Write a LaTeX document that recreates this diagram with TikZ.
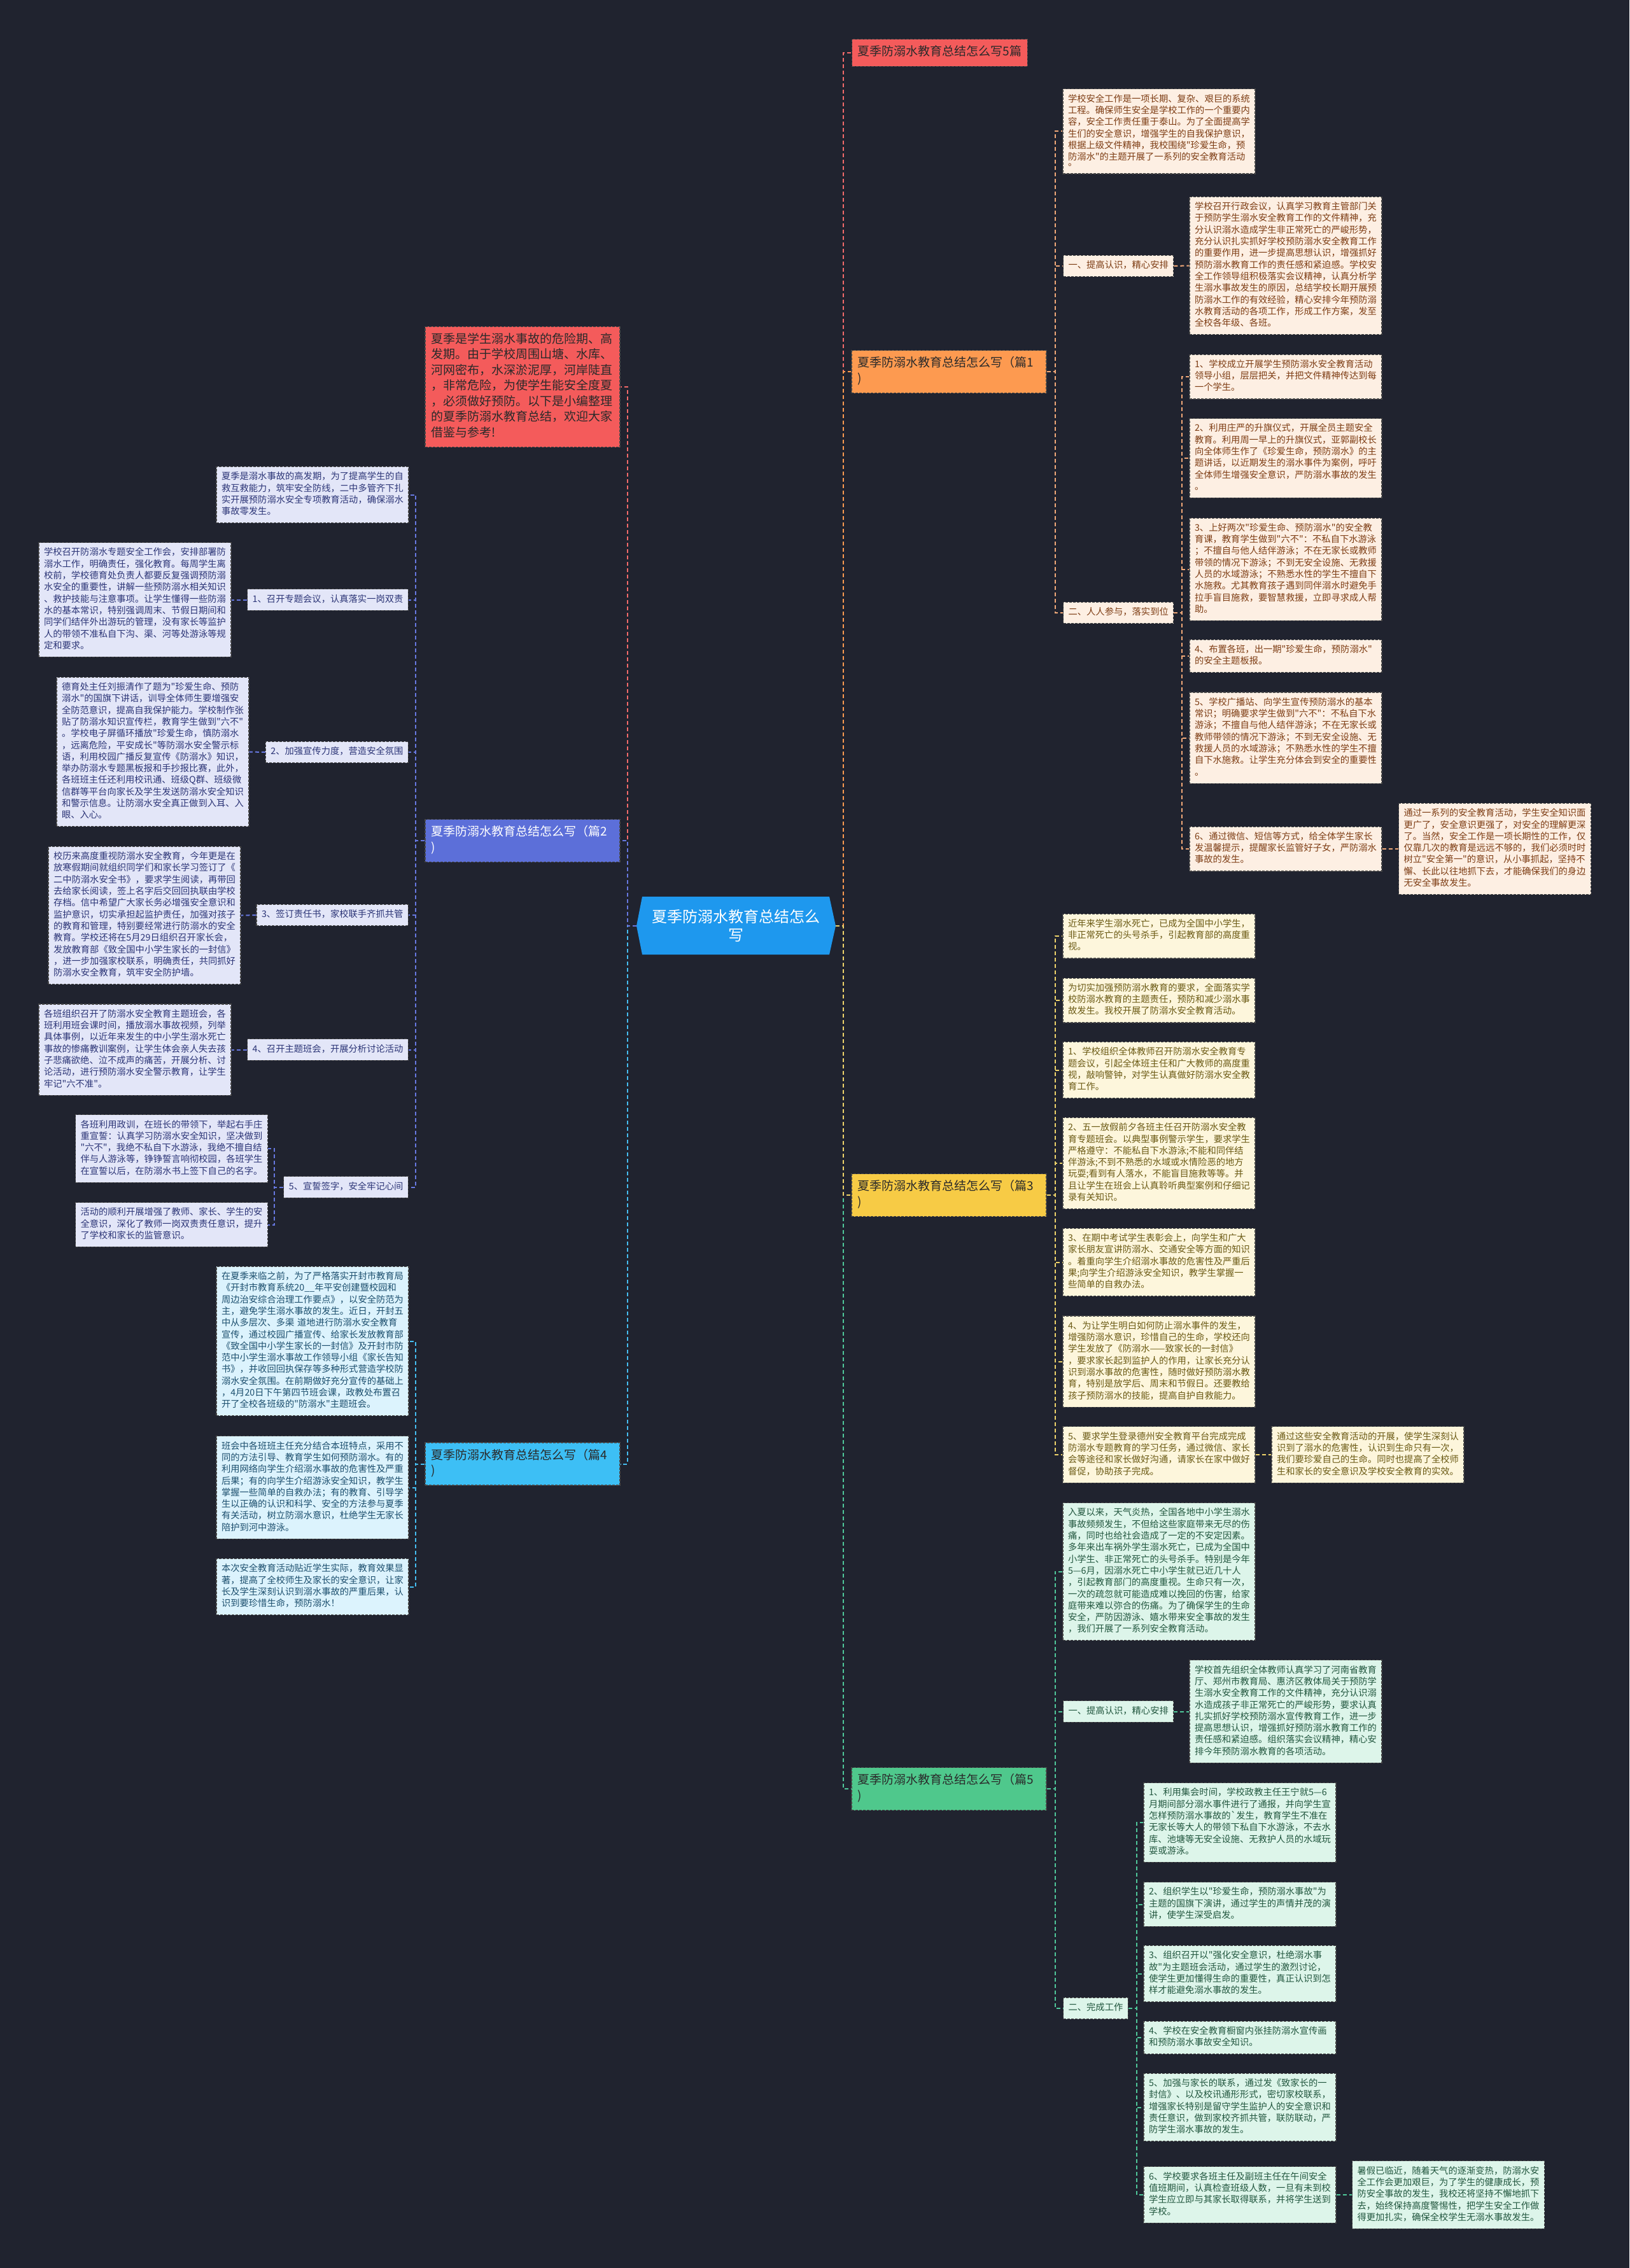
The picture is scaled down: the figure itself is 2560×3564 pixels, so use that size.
\documentclass[tikz,border=0pt]{standalone}
\usepackage{fontspec}
\setmainfont{Noto Sans CJK SC}
\font\dqf="Noto Sans CJK SC" at 14.3pt
\newcommand\dq{{\dqf"}}
\newcommand\bq{{\dqf`}}
\definecolor{bgc}{HTML}{20232F}
\definecolor{ctrc}{HTML}{1E98EE}
\definecolor{redf}{HTML}{F45B5B}
\definecolor{redl}{HTML}{F26A6A}
\definecolor{orf}{HTML}{FD9A50}
\definecolor{orl}{HTML}{F0A878}
\definecolor{orb}{HTML}{FDEFE3}
\definecolor{ort}{HTML}{7E3D14}
\definecolor{yef}{HTML}{F7CB45}
\definecolor{yel}{HTML}{EED36A}
\definecolor{yeb}{HTML}{FDF6DC}
\definecolor{yet}{HTML}{6B5A14}
\definecolor{grf}{HTML}{4FC88C}
\definecolor{grl}{HTML}{4FC79A}
\definecolor{grb}{HTML}{DDF5EA}
\definecolor{grt}{HTML}{22573F}
\definecolor{blf}{HTML}{5C6FD9}
\definecolor{bll}{HTML}{6778E0}
\definecolor{blb}{HTML}{E3E6F8}
\definecolor{blt}{HTML}{2C3577}
\definecolor{cyf}{HTML}{3DBFF5}
\definecolor{cyl}{HTML}{45BDF0}
\definecolor{cyb}{HTML}{DCF3FD}
\definecolor{cyt}{HTML}{1C4F6E}
\definecolor{dkt}{HTML}{2A2A2A}
\tikzset{
  bord/.style={draw=black!72, line width=1.1pt, dash pattern=on 4pt off 2pt},
  ttl/.style={bord, font=\fontsize{19}{24.5}\selectfont, inner xsep=9pt, inner ysep=9pt, align=left,
    execute at begin node=\strut, execute at end node=\strut},
  ttlw/.style={ttl, text width=288pt},
  lab/.style={bord, font=\fontsize{14.3}{18.3}\selectfont, inner xsep=8pt, inner ysep=7.5pt, align=left,
    execute at begin node=\strut, execute at end node=\strut},
  tb/.style={lab, text width=286pt},
  sOr/.style={fill=orb, text=ort},
  sYe/.style={fill=yeb, text=yet},
  sGr/.style={fill=grb, text=grt},
  sBl/.style={fill=blb, text=blt},
  sCy/.style={fill=cyb, text=cyt},
  ln/.style={line width=2pt, dash pattern=on 6pt off 4pt},
}
\begin{document}
\begin{tikzpicture}[x=1pt,y=-1pt]
\fill[bgc] (0,0) rectangle (2560,3564);
\useasboundingbox (0,0) rectangle (2560,3564);

% ---------- centre ----------
\fill[ctrc] (1000,1455) -- (1009,1409) -- (1303,1409) -- (1313,1455) -- (1303,1500) -- (1009,1500) -- cycle;
\node[minimum width=313pt, minimum height=91pt, inner sep=0pt, align=center, text=white,
  font=\fontsize{24}{29}\selectfont] (ctr) at (1156.5,1455) {夏季防溺水教育总结怎么\\写};

% ---------- right branch titles ----------
\node[ttl, fill=redf, text=dkt, anchor=west] (t5) at (1338,83) {夏季防溺水教育总结怎么写5篇};
\node[ttlw, fill=orf, text=dkt] (t1) at (1491,584) {夏季防溺水教育总结怎么写（篇1\\)};
\node[ttlw, fill=yef, text=dkt] (t3) at (1491,1878) {夏季防溺水教育总结怎么写（篇3\\)};
\node[ttlw, fill=grf, text=dkt] (t6) at (1491,2811) {夏季防溺水教育总结怎么写（篇5\\)};

% ---------- left branch titles ----------
\node[ttlw, fill=redf, text=dkt] (intro) at (821,608) {夏季是学生溺水事故的危险期、高\\发期。由于学校周围山塘、水库、\\河网密布，水深淤泥厚，河岸陡直\\，非常危险，为使学生能安全度夏\\，必须做好预防。以下是小编整理\\的夏季防溺水教育总结，欢迎大家\\借鉴与参考!};
\node[ttlw, fill=blf, text=white] (t2) at (821,1321) {夏季防溺水教育总结怎么写（篇2\\)};
\node[ttlw, fill=cyf, text=dkt] (t4) at (821,2300.5) {夏季防溺水教育总结怎么写（篇4\\)};

% ---------- branch 1 ----------
\node[tb, sOr] (a1) at (1821,206.5) {学校安全工作是一项长期、复杂、艰巨的系统\\工程。确保师生安全是学校工作的一个重要内\\容，安全工作责任重于泰山。为了全面提高学\\生们的安全意识，增强学生的自我保护意识，\\根据上级文件精神，我校围绕\dq 珍爱生命，预\\防溺水\dq 的主题开展了一系列的安全教育活动\\[-10pt]。};
\node[lab, sOr, anchor=west] (a2) at (1670,418) {一、提高认识，精心安排};
\node[tb, sOr] (a2c) at (2020,417.5) {学校召开行政会议，认真学习教育主管部门关\\于预防学生溺水安全教育工作的文件精神，充\\分认识溺水造成学生非正常死亡的严峻形势，\\充分认识扎实抓好学校预防溺水安全教育工作\\的重要作用，进一步提高思想认识，增强抓好\\预防溺水教育工作的责任感和紧迫感。学校安\\全工作领导组积极落实会议精神，认真分析学\\生溺水事故发生的原因，总结学校长期开展预\\防溺水工作的有效经验，精心安排今年预防溺\\水教育活动的各项工作，形成工作方案，发至\\全校各年级、各班。};
\node[lab, sOr, anchor=west] (a3) at (1670,963) {二、人人参与，落实到位};
\node[tb, sOr] (b1) at (2020,592) {1、学校成立开展学生预防溺水安全教育活动\\领导小组，层层把关，并把文件精神传达到每\\一个学生。};
\node[tb, sOr] (b2) at (2020,720) {2、利用庄严的升旗仪式，开展全员主题安全\\教育。利用周一早上的升旗仪式，亚郭副校长\\向全体师生作了《珍爱生命，预防溺水》的主\\题讲话，以近期发生的溺水事件为案例，呼吁\\全体师生增强安全意识，严防溺水事故的发生\\。};
\node[tb, sOr] (b3) at (2020,894.75) {3、上好两次\dq 珍爱生命、预防溺水\dq 的安全教\\育课，教育学生做到\dq 六不\dq ：不私自下水游泳\\；不擅自与他人结伴游泳；不在无家长或教师\\带领的情况下游泳；不到无安全设施、无救援\\人员的水域游泳；不熟悉水性的学生不擅自下\\水施救。尤其教育孩子遇到同伴溺水时避免手\\拉手盲目施救，要智慧救援，立即寻求成人帮\\助。};
\node[tb, sOr] (b4) at (2020,1031) {4、布置各班，出一期\dq 珍爱生命，预防溺水\dq \\的安全主题板报。};
\node[tb, sOr] (b5) at (2020,1159.5) {5、学校广播站、向学生宣传预防溺水的基本\\常识；明确要求学生做到\dq 六不\dq ：不私自下水\\游泳；不擅自与他人结伴游泳；不在无家长或\\教师带领的情况下游泳；不到无安全设施、无\\救援人员的水域游泳；不熟悉水性的学生不擅\\自下水施救。让学生充分体会到安全的重要性\\。};
\node[tb, sOr] (b6) at (2020,1334) {6、通过微信、短信等方式，给全体学生家长\\发温馨提示，提醒家长监管好子女，严防溺水\\事故的发生。};
\node[tb, sOr] (b6c) at (2348.5,1334) {通过一系列的安全教育活动，学生安全知识面\\更广了，安全意识更强了，对安全的理解更深\\了。当然，安全工作是一项长期性的工作，仅\\仅靠几次的教育是远远不够的，我们必须时时\\树立\dq 安全第一\dq 的意识，从小事抓起，坚持不\\懈、长此以往地抓下去，才能确保我们的身边\\无安全事故发生。};

% ---------- branch 3 ----------
\node[tb, sYe] (c1) at (1821,1471) {近年来学生溺水死亡，已成为全国中小学生，\\非正常死亡的头号杀手，引起教育部的高度重\\视。};
\node[tb, sYe] (c2) at (1821,1572) {为切实加强预防溺水教育的要求，全面落实学\\校防溺水教育的主题责任，预防和减少溺水事\\故发生。我校开展了防溺水安全教育活动。};
\node[tb, sYe] (c3) at (1821,1681.5) {1、学校组织全体教师召开防溺水安全教育专\\题会议，引起全体班主任和广大教师的高度重\\视，敲响警钟，对学生认真做好防溺水安全教\\育工作。};
\node[tb, sYe] (c4) at (1821,1828) {2、五一放假前夕各班主任召开防溺水安全教\\育专题班会。以典型事例警示学生，要求学生\\严格遵守：不能私自下水游泳;不能和同伴结\\伴游泳;不到不熟悉的水域或水情险恶的地方\\玩耍;看到有人落水，不能盲目施救等等。并\\且让学生在班会上认真聆听典型案例和仔细记\\录有关知识。};
\node[tb, sYe] (c5) at (1821,1983.5) {3、在期中考试学生表彰会上，向学生和广大\\家长朋友宣讲防溺水、交通安全等方面的知识\\。着重向学生介绍溺水事故的危害性及严重后\\果;向学生介绍游泳安全知识，教学生掌握一\\些简单的自救办法。};
\node[tb, sYe] (c6) at (1821,2139.5) {4、为让学生明白如何防止溺水事件的发生，\\增强防溺水意识，珍惜自己的生命，学校还向\\学生发放了《防溺水——致家长的一封信》\\，要求家长起到监护人的作用，让家长充分认\\识到溺水事故的危害性，随时做好预防溺水教\\育，特别是放学后、周末和节假日。还要教给\\孩子预防溺水的技能，提高自护自救能力。};
\node[tb, sYe] (c7) at (1821,2286) {5、要求学生登录德州安全教育平台完成完成\\防溺水专题教育的学习任务，通过微信、家长\\会等途径和家长做好沟通，请家长在家中做好\\督促，协助孩子完成。};
\node[tb, sYe] (c7c) at (2149,2286) {通过这些安全教育活动的开展，使学生深刻认\\识到了溺水的危害性，认识到生命只有一次，\\我们要珍爱自己的生命。同时也提高了全校师\\生和家长的安全意识及学校安全教育的实效。};

% ---------- branch 5 ----------
\node[tb, sGr] (d1) at (1821,2469.75) {入夏以来，天气炎热，全国各地中小学生溺水\\事故频频发生，不但给这些家庭带来无尽的伤\\痛，同时也给社会造成了一定的不安定因素。\\多年来出车祸外学生溺水死亡，已成为全国中\\小学生、非正常死亡的头号杀手。特别是今年\\5—6月，因溺水死亡中小学生就已近几十人\\，引起教育部门的高度重视。生命只有一次，\\一次的疏忽就可能造成难以挽回的伤害，给家\\庭带来难以弥合的伤痛。为了确保学生的生命\\安全，严防因游泳、嬉水带来安全事故的发生\\，我们开展了一系列安全教育活动。};
\node[lab, sGr, anchor=west] (d2) at (1670,2689.5) {一、提高认识，精心安排};
\node[tb, sGr] (d2c) at (2020,2689.5) {学校首先组织全体教师认真学习了河南省教育\\厅、郑州市教育局、惠济区教体局关于预防学\\生溺水安全教育工作的文件精神，充分认识溺\\水造成孩子非正常死亡的严峻形势，要求认真\\扎实抓好学校预防溺水宣传教育工作，进一步\\提高思想认识，增强抓好预防溺水教育工作的\\责任感和紧迫感。组织落实会议精神，精心安\\排今年预防溺水教育的各项活动。};
\node[lab, sGr, anchor=west] (d3) at (1670,3156) {二、完成工作};
\node[tb, sGr] (e1) at (1948,2864) {1、利用集会时间，学校政教主任王宁就5—6\\月期间部分溺水事件进行了通报，并向学生宣\\怎样预防溺水事故的\bq 发生，教育学生不准在\\无家长等大人的带领下私自下水游泳，不去水\\库、池塘等无安全设施、无救护人员的水域玩\\耍或游泳。};
\node[tb, sGr] (e2) at (1948,2992.5) {2、组织学生以\dq 珍爱生命，预防溺水事故\dq 为\\主题的国旗下演讲，通过学生的声情并茂的演\\讲，使学生深受启发。};
\node[tb, sGr] (e3) at (1948,3101.5) {3、组织召开以\dq 强化安全意识，杜绝溺水事\\故\dq 为主题班会活动，通过学生的激烈讨论，\\使学生更加懂得生命的重要性，真正认识到怎\\样才能避免溺水事故的发生。};
\node[tb, sGr] (e4) at (1948,3202) {4、学校在安全教育橱窗内张挂防溺水宣传画\\和预防溺水事故安全知识。};
\node[tb, sGr] (e5) at (1948,3311.5) {5、加强与家长的联系，通过发《致家长的一\\封信》、以及校讯通形形式，密切家校联系，\\增强家长特别是留守学生监护人的安全意识和\\责任意识，做到家校齐抓共管，联防联动，严\\防学生溺水事故的发生。};
\node[tb, sGr] (e6) at (1948,3449) {6、学校要求各班主任及副班主任在午间安全\\值班期间，认真检查班级人数，一旦有未到校\\学生应立即与其家长取得联系，并将学生送到\\学校。};
\node[tb, sGr] (e6c) at (2275.5,3449) {暑假已临近，随着天气的逐渐变热，防溺水安\\全工作会更加艰巨，为了学生的健康成长，预\\防安全事故的发生，我校还将坚持不懈地抓下\\去，始终保持高度警惕性，把学生安全工作做\\得更加扎实，确保全校学生无溺水事故发生。};

% ---------- branch 2 ----------
\node[tb, sBl] (f1) at (491,777.5) {夏季是溺水事故的高发期，为了提高学生的自\\救互救能力，筑牢安全防线，二中多管齐下扎\\实开展预防溺水安全专项教育活动，确保溺水\\事故零发生。};
\node[lab, sBl, anchor=east] (g1) at (642,942.5) {1、召开专题会议，认真落实一岗双责};
\node[tb, sBl] (g1c) at (212,942.5) {学校召开防溺水专题安全工作会，安排部署防\\溺水工作，明确责任，强化教育。每周学生离\\校前，学校德育处负责人都要反复强调预防溺\\水安全的重要性，讲解一些预防溺水相关知识\\、救护技能与注意事项。让学生懂得一些防溺\\水的基本常识，特别强调周末、节假日期间和\\同学们结伴外出游玩的管理，没有家长等监护\\人的带领不准私自下沟、渠、河等处游泳等规\\定和要求。};
\node[lab, sBl, anchor=east] (g2) at (642,1182) {2、加强宣传力度，营造安全氛围};
\node[tb, sBl] (g2c) at (240,1181.5) {德育处主任刘振清作了题为\dq 珍爱生命、预防\\溺水\dq 的国旗下讲话，训导全体师生要增强安\\全防范意识，提高自我保护能力。学校制作张\\贴了防溺水知识宣传栏，教育学生做到\dq 六不\dq \\。学校电子屏循环播放\dq 珍爱生命，慎防溺水\\，远离危险，平安成长\dq 等防溺水安全警示标\\语，利用校园广播反复宣传《防溺水》知识，\\举办防溺水专题黑板报和手抄报比赛，此外，\\各班班主任还利用校讯通、班级Q群、班级微\\信群等平台向家长及学生发送防溺水安全知识\\和警示信息。让防溺水安全真正做到入耳、入\\眼、入心。};
\node[lab, sBl, anchor=east] (g3) at (642,1438) {3、签订责任书，家校联手齐抓共管};
\node[tb, sBl] (g3c) at (227,1438.5) {校历来高度重视防溺水安全教育，今年更是在\\放寒假期间就组织同学们和家长学习签订了《\\二中防溺水安全书》，要求学生阅读，再带回\\去给家长阅读，签上名字后交回回执联由学校\\存档。信中希望广大家长务必增强安全意识和\\监护意识，切实承担起监护责任，加强对孩子\\的教育和管理，特别要经常进行防溺水的安全\\教育。学校还将在5月29日组织召开家长会，\\发放教育部《致全国中小学生家长的一封信》\\，进一步加强家校联系，明确责任，共同抓好\\防溺水安全教育，筑牢安全防护墙。};
\node[lab, sBl, anchor=east] (g4) at (642,1649.5) {4、召开主题班会，开展分析讨论活动};
\node[tb, sBl] (g4c) at (212,1649.5) {各班组织召开了防溺水安全教育主题班会，各\\班利用班会课时间，播放溺水事故视频，列举\\具体事例，以近年来发生的中小学生溺水死亡\\事故的惨痛教训案例，让学生体会亲人失去孩\\子悲痛欲绝、泣不成声的痛苦，开展分析、讨\\论活动，进行预防溺水安全警示教育，让学生\\牢记\dq 六不准\dq 。};
\node[lab, sBl, anchor=east] (g5) at (642,1865.5) {5、宣誓签字，安全牢记心间};
\node[tb, sBl] (g5a) at (269.5,1805) {各班利用政训，在班长的带领下，举起右手庄\\重宣誓：认真学习防溺水安全知识，坚决做到\\\dq 六不\dq ，我绝不私自下水游泳，我绝不擅自结\\伴与人游泳等，铮铮誓言响彻校园，各班学生\\在宣誓以后，在防溺水书上签下自己的名字。};
\node[tb, sBl] (g5b) at (269.5,1924.5) {活动的顺利开展增强了教师、家长、学生的安\\全意识，深化了教师一岗双责责任意识，提升\\了学校和家长的监管意识。};

% ---------- branch 4 ----------
\node[tb, sCy] (h1) at (491,2107.5) {在夏季来临之前，为了严格落实开封市教育局\\《开封市教育系统20\_\_年平安创建暨校园和\\周边治安综合治理工作要点》，以安全防范为\\主，避免学生溺水事故的发生。近日，开封五\\中从多层次、多渠 道地进行防溺水安全教育\\宣传，通过校园广播宣传、给家长发放教育部\\《致全国中小学生家长的一封信》及开封市防\\范中小学生溺水事故工作领导小组《家长告知\\书》，并收回回执保存等多种形式营造学校防\\溺水安全氛围。在前期做好充分宣传的基础上\\，4月20日下午第四节班会课，政教处布置召\\开了全校各班级的\dq 防溺水\dq 主题班会。};
\node[tb, sCy] (h2) at (491,2337.5) {班会中各班班主任充分结合本班特点，采用不\\同的方法引导、教育学生如何预防溺水。有的\\利用网络向学生介绍溺水事故的危害性及严重\\后果；有的向学生介绍游泳安全知识，教学生\\掌握一些简单的自救办法；有的教育、引导学\\生以正确的认识和科学、安全的方法参与夏季\\有关活动，树立防溺水意识，杜绝学生无家长\\陪护到河中游泳。};
\node[tb, sCy] (h3) at (491,2493.5) {本次安全教育活动贴近学生实际，教育效果显\\著，提高了全校师生及家长的安全意识，让家\\长及学生深刻认识到溺水事故的严重后果，认\\识到要珍惜生命，预防溺水！};

% ---------- connectors: centre to branches ----------
\draw[ln, redl] (ctr.east) -- ++(12,0) |- (t5.west);
\draw[ln, orf] (ctr.east) -- ++(12,0) |- (t1.west);
\draw[ln, grl] (ctr.east) -- ++(12,0) |- (t6.west);
\draw[ln, yel] (ctr.east) -- ++(12,0) |- (t3.west);
\draw[ln, redl] (ctr.west) -- ++(-14,0) |- (intro.east);
\draw[ln, cyl] (ctr.west) -- ++(-14,0) |- (t4.east);
\draw[ln, bll] (ctr.west) -- ++(-14,0) |- (t2.east);

% ---------- branch 1 connectors ----------
\foreach \n in {a1,a2,a3} \draw[ln, orl] (t1.east) -- ++(13,0) |- (\n.west);
\draw[ln, orl] (a2.east) -- (a2c.west);
\foreach \n in {b1,b2,b3,b4,b5,b6} \draw[ln, orl] (a3.east) -- ++(13,0) |- (\n.west);
\draw[ln, orl] (b6.east) -- (b6c.west);

% ---------- branch 3 connectors ----------
\foreach \n in {c1,c2,c3,c4,c5,c6,c7} \draw[ln, yel] (t3.east) -- ++(13,0) |- (\n.west);
\draw[ln, yel] (c7.east) -- (c7c.west);

% ---------- branch 5 connectors ----------
\foreach \n in {d1,d2,d3} \draw[ln, grl] (t6.east) -- ++(13,0) |- (\n.west);
\draw[ln, grl] (d2.east) -- (d2c.west);
\foreach \n in {e1,e2,e3,e4,e5,e6} \draw[ln, grl] (d3.east) -- ++(13,0) |- (\n.west);
\draw[ln, grl] (e6.east) -- (e6c.west);

% ---------- branch 2 connectors ----------
\foreach \n in {f1,g1,g2,g3,g4,g5} \draw[ln, bll] (t2.west) -- ++(-14,0) |- (\n.east);
\draw[ln, bll] (g1.west) -- (g1c.east);
\draw[ln, bll] (g2.west) -- (g2c.east);
\draw[ln, bll] (g3.west) -- (g3c.east);
\draw[ln, bll] (g4.west) -- (g4c.east);
\foreach \n in {g5a,g5b} \draw[ln, bll] (g5.west) -- ++(-14,0) |- (\n.east);

% ---------- branch 4 connectors ----------
\foreach \n in {h1,h2,h3} \draw[ln, cyl] (t4.west) -- ++(-14,0) |- (\n.east);
\end{tikzpicture}
\end{document}
